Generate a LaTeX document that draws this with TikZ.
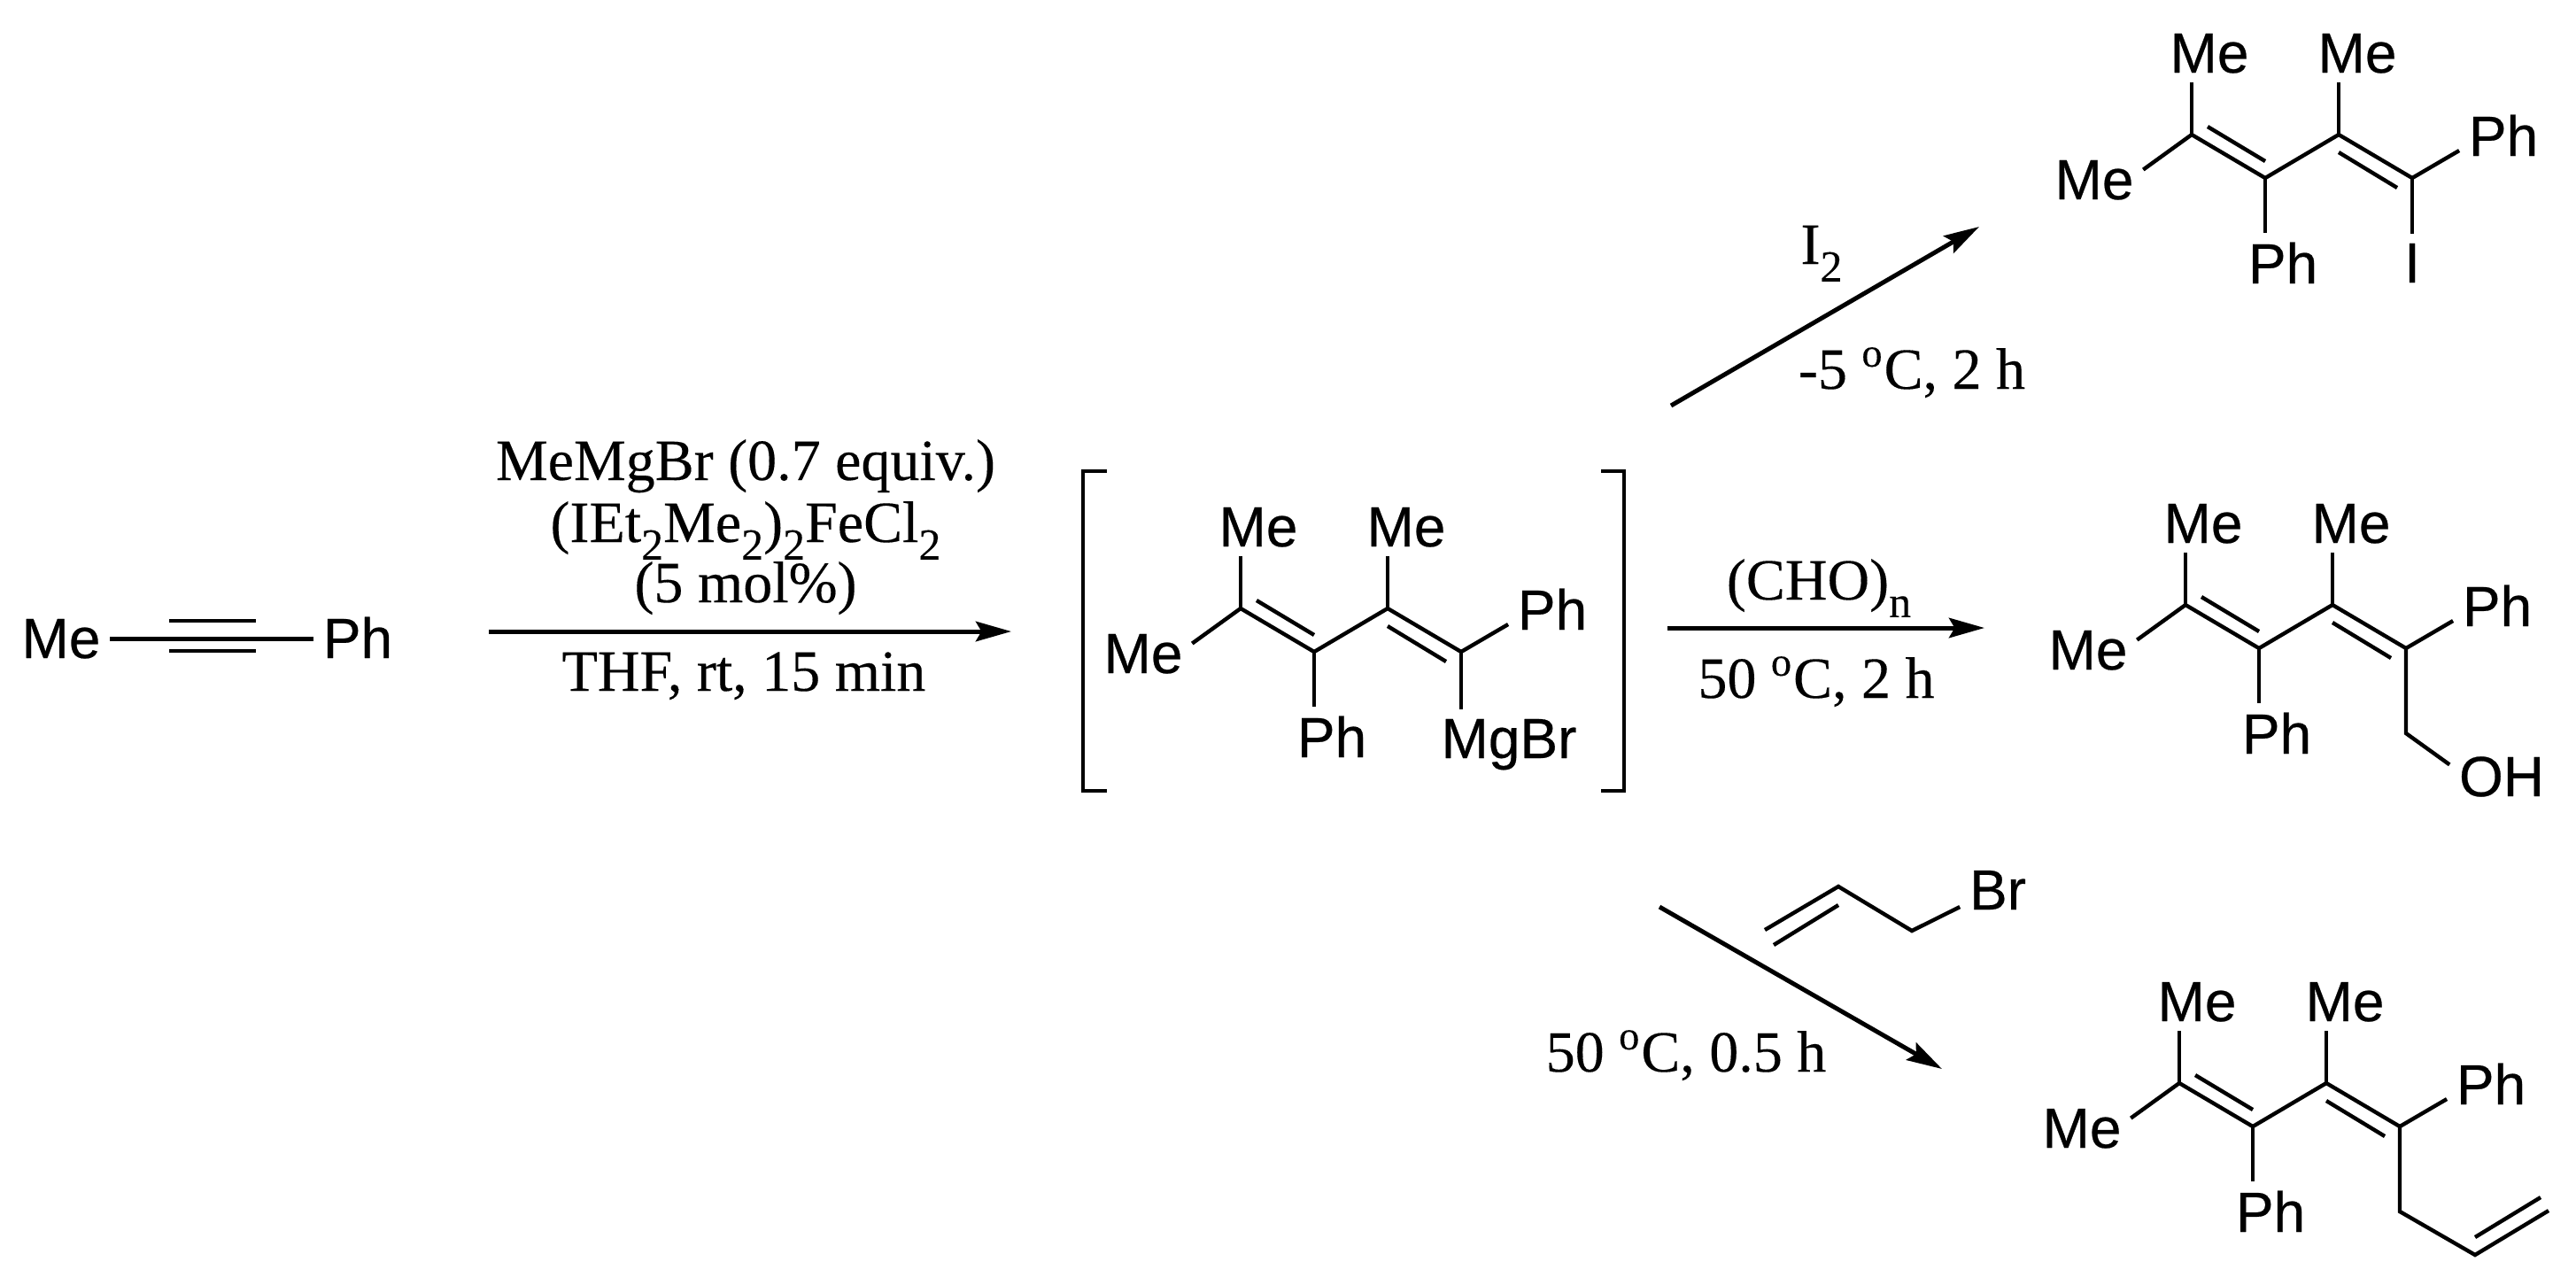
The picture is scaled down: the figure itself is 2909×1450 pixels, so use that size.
\documentclass[tikz,border=0pt]{standalone}
\usepackage{fontspec}
\setmainfont{Liberation Serif}[FakeBold=0.2]
\setsansfont{Liberation Sans}[FakeBold=0.4]
\usetikzlibrary{arrows.meta}
\tikzset{
    atom/.style={font=\sffamily\fontsize{16}{16}\selectfont, inner sep=2.5pt, anchor=base},
    cond/.style={font=\rmfamily\fontsize{16.5}{16.5}\selectfont, inner sep=0pt, anchor=base},
    bond/.style={line width=1.1pt},
    rxn/.style={line width=1.25pt, -{Stealth[length=10pt, width=5.6pt, inset=1.6pt]}},
}
\newcommand{\chemsub}[1]{\raisebox{-0.3em}{\fontsize{12.5}{12.5}\selectfont #1}}
\newcommand{\dienyl}{
    \coordinate (c1) at (0,0);
    \coordinate (c2) at (83,49);
    \coordinate (c3) at (166,0);
    \coordinate (c4) at (249,49);
    \coordinate (in1) at (18,-9);
    \coordinate (in2) at (83,30);
    \coordinate (in3) at (166,20);
    \coordinate (in4) at (232,60);
    \node [atom] (me1) at (20,-70) {Me};
    \node [atom] (me2) at (187,-70) {Me};
    \node [atom] (me3) at (-110,73) {Me};
    \node [atom] (ph1) at (103,168) {Ph};
    \node [atom] (ph2) at (352,24) {Ph};
    \draw [bond] (c1) -- (c2) -- (c3) -- (c4);
    \draw [bond] (in1) -- (in2);
    \draw [bond] (in3) -- (in4);
    \draw [bond] (c1) -- (me1.south -| c1);
    \draw [bond] (c3) -- (me2.south -| c3);
    \draw [bond] (c1) -- (me3.12);
    \draw [bond] (c2) -- (ph1.north -| c2);
    \draw [bond] (c4) -- (ph2.199);
}

\begin{document}
\begin{tikzpicture}[x=0.25pt, y=-0.25pt]
    \useasboundingbox (0,0) rectangle (2909,1450);

    \node [atom] (me0) at (69,743) {Me};
    \node [atom] (ph0) at (404,743) {Ph};
    \coordinate (tl) at (191,701);
    \coordinate (tr) at (289,701);
    \coordinate (bl) at (191,735);
    \coordinate (br) at (289,735);
    \draw [bond] (me0.east) -- (me0.east -| ph0.west);
    \draw [bond] (tl) -- (tr);
    \draw [bond] (bl) -- (br);

    \coordinate (a1s) at (552,713);
    \coordinate (a1e) at (1142,713);
    \draw [rxn] (a1s) -- (a1e);
    \node [cond] (cat1) at (842,542) {MeMgBr (0.7 equiv.)};
    \node [cond] (cat2) at (842,612) {(IEt\chemsub{2}Me\chemsub{2})\chemsub{2}FeCl\chemsub{2}};
    \node [cond] (cat3) at (842,680) {(5 mol\%)};
    \node [cond] (cat4) at (840,780) {THF, rt, 15 min};

    \draw [bond] (1250,532) -- (1223,532) -- (1223,893) -- (1250,893);
    \draw [bond] (1808,532) -- (1834,532) -- (1834,893) -- (1808,893);
    \begin{scope}[shift={(1401,687)}, name prefix=grig-]
        \dienyl
    \end{scope}
    \node [atom] (mgbr) at (1704,856) {MgBr};
    \draw [bond] (grig-c4) -- (mgbr.north -| grig-c4);

    \coordinate (a2s) at (1887,458);
    \coordinate (a2e) at (2235,256);
    \draw [rxn] (a2s) -- (a2e);
    \node [cond] (iod) at (2057,298) {I\chemsub{2}};
    \node [cond] (iodt) at (2159,439) {-5 \textsuperscript{o}C, 2 h};
    \begin{scope}[shift={(2475,152)}, name prefix=top-]
        \dienyl
    \end{scope}
    \node [atom] (iodo) at (2724,319) {I};
    \draw [bond] (top-c4) -- (iodo.north -| top-c4);

    \coordinate (a3s) at (1883,709);
    \coordinate (a3e) at (2241,709);
    \draw [rxn] (a3s) -- (a3e);
    \node [cond] (form) at (2054,677) {(CHO)\chemsub{n}};
    \node [cond] (formt) at (2051,788) {50 \textsuperscript{o}C, 2 h};
    \begin{scope}[shift={(2468,683)}, name prefix=mid-]
        \dienyl
    \end{scope}
    \coordinate (ch2) at (2717,828);
    \node [atom] (oh) at (2825,899) {OH};
    \draw [bond] (mid-c4) -- (ch2) -- (oh.167);

    \coordinate (a4s) at (1874,1024);
    \coordinate (a4e) at (2193,1207);
    \draw [rxn] (a4s) -- (a4e);
    \coordinate (ab1) at (1993,1050);
    \coordinate (ab2) at (2076,1001);
    \coordinate (ab3) at (2159,1051);
    \coordinate (ab4) at (2003,1067);
    \coordinate (ab5) at (2076,1022);
    \node [atom] (brom) at (2256,1027) {Br};
    \draw [bond] (ab1) -- (ab2) -- (ab3) -- (brom.204);
    \draw [bond] (ab4) -- (ab5);
    \node [cond] (allt) at (1904,1210) {50 \textsuperscript{o}C, 0.5 h};
    \begin{scope}[shift={(2461,1223)}, name prefix=bot-]
        \dienyl
    \end{scope}
    \coordinate (al1) at (2710,1368);
    \coordinate (al2) at (2795,1417);
    \coordinate (al3) at (2878,1367);
    \coordinate (al4) at (2795,1397);
    \coordinate (al5) at (2869,1352);
    \draw [bond] (bot-c4) -- (al1) -- (al2) -- (al3);
    \draw [bond] (al4) -- (al5);
\end{tikzpicture}
\end{document}
